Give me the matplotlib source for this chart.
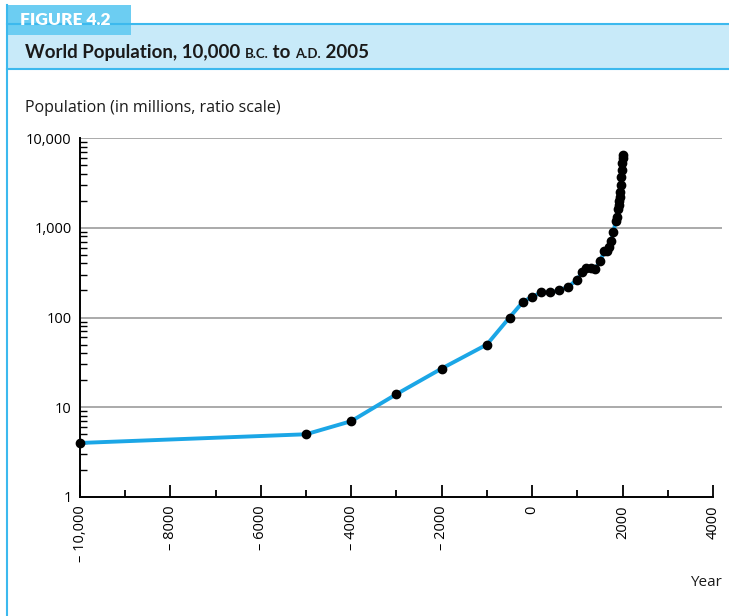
import matplotlib
matplotlib.use("Agg")
import matplotlib.pyplot as plt
from matplotlib.patches import Rectangle
from matplotlib.lines import Line2D
import matplotlib.ticker as mticker
import numpy as np

# world population, millions
years = [-10000, -5000, -4000, -3000, -2000, -1000, -500, -200, 1, 200, 400, 600, 800,
         1000, 1100, 1200, 1300, 1400, 1500, 1600, 1650, 1700, 1750, 1800, 1850, 1875,
         1900, 1920, 1930, 1940, 1950, 1960, 1970, 1980, 1990, 2000, 2005]
population = [4, 5, 7, 14, 27, 50, 100, 150, 170, 190, 190, 200, 220,
              265, 320, 360, 360, 350, 425, 545, 545, 610, 720, 900, 1200, 1325,
              1625, 1813, 1987, 2213, 2516, 3020, 3698, 4448, 5292, 6000, 6450]

xticks = [-10000, -8000, -6000, -4000, -2000, 0, 2000, 4000]
xtick_labels = ["\u2013 10,000", "\u2013 8000", "\u2013 6000", "\u2013 4000", "\u2013 2000", "0", "2000", "4000"]
yticks = [1, 10, 100, 1000, 10000]
ytick_labels = ["1", "10", "100", "1,000", "10,000"]

W, H = 729, 616
line_blue = "#1ba6e6"
tab_blue = "#6ccdf2"
band_blue = "#c8eaf9"
edge_blue = "#3cb9ee"

fig = plt.figure(figsize=(W / 100, H / 100), dpi=100)

def fx(px):
    return px / W

def fy(py):
    return 1 - py / H

# header band and tab
fig.patches.append(Rectangle((fx(7), fy(69)), fx(W - 7), (69 - 24) / H, transform=fig.transFigure,
                             facecolor=band_blue, edgecolor="none", zorder=0))
fig.lines.append(Line2D([fx(7), 1], [fy(24), fy(24)], transform=fig.transFigure, color=edge_blue, lw=1.5))
fig.lines.append(Line2D([fx(7), 1], [fy(69), fy(69)], transform=fig.transFigure, color=edge_blue, lw=1.5))
fig.lines.append(Line2D([fx(7), fx(7)], [fy(5), 0], transform=fig.transFigure, color=edge_blue, lw=1.5))
fig.patches.append(Rectangle((fx(7), fy(35)), fx(124), 30 / H, transform=fig.transFigure,
                             facecolor=tab_blue, edgecolor="none", zorder=1))
fig.text(fx(20), fy(20), "FIGURE 4.2", color="white", fontsize=12.5, fontweight="heavy",
         family="Lato", va="center", ha="left")

# title with small caps pieces
pieces = [("World Population, 10,000 ", 13.5), ("B.C.", 9.5), (" to ", 13.5), ("A.D.", 9.5), (" 2005", 13.5)]
renderer = fig.canvas.get_renderer()
x0 = fx(25)
for txt, sz in pieces:
    t = fig.text(x0, fy(58), txt, fontsize=sz, fontweight="bold", family="Lato",
                 color="#1a1a1a", va="baseline", ha="left")
    bb = t.get_window_extent(renderer=renderer)
    x0 = x0 + bb.width / W

fig.text(fx(25), fy(108), "Population (in millions, ratio scale)", fontsize=11.5, family="Open Sans",
         color="#1a1a1a", va="center", ha="left")
fig.text(fx(722), fy(583), "Year", fontsize=11, family="Open Sans", color="#1a1a1a",
         va="center", ha="right")

ax = fig.add_axes([fx(80), 1 - 497 / H, (722 - 80) / W, (497 - 138) / H])
ax.set_yscale("log")
ax.set_ylim(1, 10000)
ax.set_xlim(-10000, 4200)

for v in yticks[1:]:
    ax.axhline(v, color="#aaaaaa", lw=1.4, zorder=1)

ax.plot(years, population, color=line_blue, lw=2.8, zorder=2, solid_capstyle="round")
ax.plot(years, population, "o", color="black", ms=6, zorder=3, clip_on=False)

ax.spines["top"].set_visible(False)
ax.spines["right"].set_visible(False)
ax.spines["left"].set_linewidth(1.4)
ax.spines["bottom"].set_linewidth(1.4)
ax.spines["bottom"].set_bounds(-10000, 4000)

ax.set_xticks(xticks)
ax.set_xticklabels(xtick_labels, rotation=90, family="Open Sans", fontsize=10.5)
ax.xaxis.set_minor_locator(mticker.FixedLocator([-9000, -7000, -5000, -3000, -1000, 1000, 3000]))
ax.tick_params(axis="x", which="major", direction="in", length=9, width=1.3, pad=6)
ax.tick_params(axis="x", which="minor", direction="in", length=5, width=1.3)

ax.set_yticks(yticks)
ax.set_yticklabels(ytick_labels, family="Open Sans", fontsize=10.5)
ax.yaxis.set_minor_locator(mticker.LogLocator(base=10, subs=np.arange(2, 10)))
ax.yaxis.set_minor_formatter(mticker.NullFormatter())
ax.tick_params(axis="y", which="major", direction="in", length=0, pad=6)
ax.tick_params(axis="y", which="minor", direction="in", length=5, width=1.0)

fig.savefig("out.png", dpi=100)
